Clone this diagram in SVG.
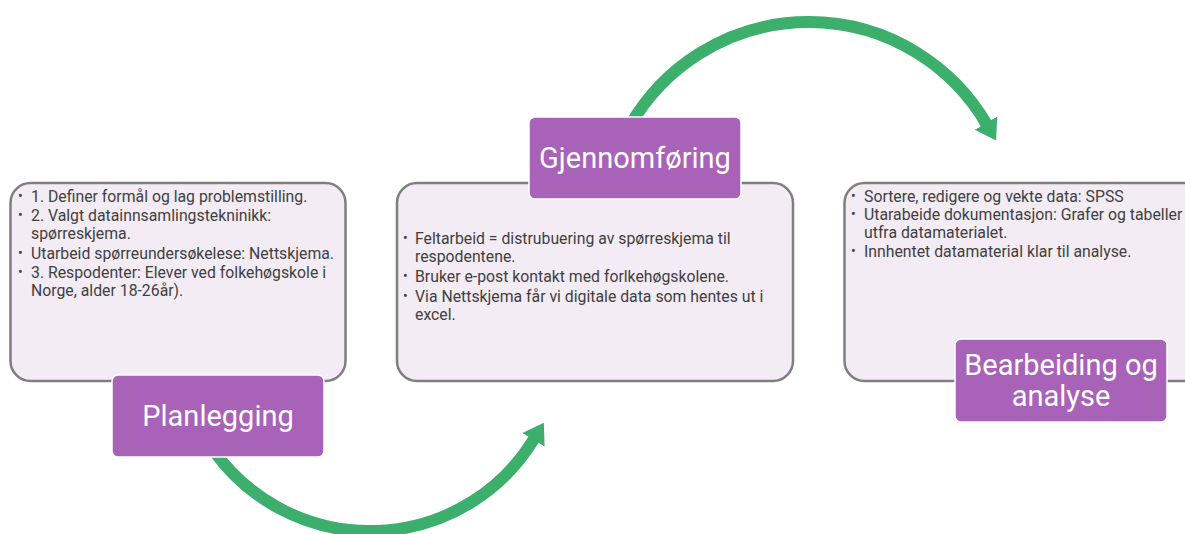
<svg xmlns="http://www.w3.org/2000/svg" width="1185" height="534" viewBox="0 0 1185 534">
  <style>
    .panel { fill: #f3ecf5; stroke: #7f7f7f; stroke-width: 2.5; }
    .label { fill: #a862b8; stroke: #ffffff; stroke-width: 1.5; }
    .ltxt { font-family: Roboto, "Liberation Sans", sans-serif; font-size: 29px; fill: #ffffff; text-anchor: middle; }
    .body { font-family: Roboto, "Liberation Sans", sans-serif; font-size: 15.8px; fill: #404040; }
    .bul { font-family: Roboto, "Liberation Sans", sans-serif; font-size: 14px; fill: #404040; }
    .arc { fill: none; stroke: #3daf6c; stroke-width: 12; }
  </style>
  <defs>
    <marker id="head" markerUnits="userSpaceOnUse" viewBox="0 -14 21 28" markerWidth="21" markerHeight="28" refX="1" refY="0" orient="auto">
      <path d="M0,-13 L20,0 L0,13 Z" fill="#3daf6c"/>
    </marker>
  </defs>
  <rect width="1185" height="534" fill="#ffffff"/>

  <g id="connectors">
    <path class="arc" d="M213.3,450 A192,192 0 0 0 534,439" marker-end="url(#head)"/>
    <path class="arc" d="M630.4,125 A206,206 0 0 1 986.5,124" marker-end="url(#head)"/>
  </g>

  <g id="panel-planlegging">
    <rect class="panel" x="10.5" y="183" width="335" height="198" rx="20"/>
    <text class="bul" x="18" y="201">•</text>
    <text class="body" x="31" y="202">1. Definer formål og lag problemstilling.</text>
    <text class="bul" x="18" y="220">•</text>
    <text class="body" x="31" y="221">2. Valgt datainnsamlingstekninikk:</text>
    <text class="body" x="31" y="239">spørreskjema.</text>
    <text class="bul" x="18" y="258">•</text>
    <text class="body" x="31" y="259">Utarbeid spørreundersøkelese: Nettskjema.</text>
    <text class="bul" x="18" y="277">•</text>
    <text class="body" x="31" y="278">3. Respodenter: Elever ved folkehøgskole i</text>
    <text class="body" x="31" y="296">Norge, alder 18-26år).</text>
  </g>

  <g id="panel-gjennomforing">
    <rect class="panel" x="397" y="183" width="396" height="198" rx="20"/>
    <text class="bul" x="403" y="243">•</text>
    <text class="body" x="415" y="244">Feltarbeid = distrubuering av spørreskjema til</text>
    <text class="body" x="415" y="262">respodentene.</text>
    <text class="bul" x="403" y="281">•</text>
    <text class="body" x="415" y="282">Bruker e-post kontakt med forlkehøgskolene.</text>
    <text class="bul" x="403" y="301">•</text>
    <text class="body" x="415" y="302">Via Nettskjema får vi digitale data som hentes ut i</text>
    <text class="body" x="415" y="320">excel.</text>
  </g>

  <g id="panel-bearbeiding">
    <rect class="panel" x="844.5" y="183" width="360" height="198" rx="20"/>
    <text class="bul" x="851" y="201">•</text>
    <text class="body" x="864" y="202">Sortere, redigere og vekte data: SPSS</text>
    <text class="bul" x="851" y="219">•</text>
    <text class="body" x="864" y="220">Utarabeide dokumentasjon: Grafer og tabeller</text>
    <text class="body" x="864" y="238">utfra datamaterialet.</text>
    <text class="bul" x="851" y="256">•</text>
    <text class="body" x="864" y="257">Innhentet datamaterial klar til analyse.</text>
  </g>

  <g id="node-planlegging">
    <rect class="label" x="112" y="375" width="212" height="82" rx="6"/>
    <text class="ltxt" x="218" y="426">Planlegging</text>
  </g>

  <g id="node-gjennomforing">
    <rect class="label" x="529" y="117" width="212" height="82" rx="6"/>
    <text class="ltxt" x="635" y="168">Gjennomføring</text>
  </g>

  <g id="node-bearbeiding">
    <rect class="label" x="955" y="339" width="212" height="83" rx="6"/>
    <text class="ltxt" x="1061" y="375">Bearbeiding og</text>
    <text class="ltxt" x="1061" y="406">analyse</text>
  </g>
</svg>
